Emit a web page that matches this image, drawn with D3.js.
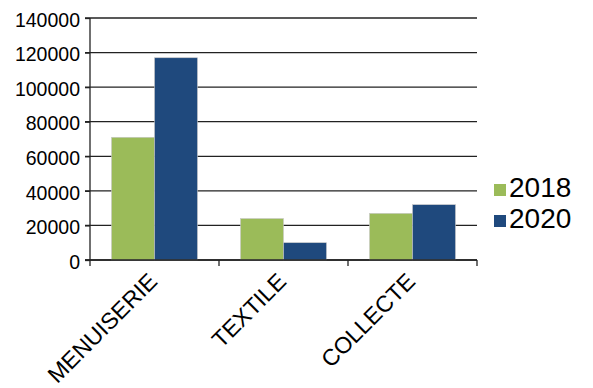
<!DOCTYPE html>
<html><head><meta charset="utf-8">
<script src="https://cdn.jsdelivr.net/npm/d3@7"></script>
<style>body{margin:0;background:#fff}svg{display:block}text{font-family:"Liberation Sans",Arial,sans-serif;fill:#000}</style>
</head><body>
<svg id="c" width="593" height="388"></svg>
<script>
const categories = ["MENUISERIE","TEXTILE","COLLECTE"];
const seriesNames = ["2018","2020"];
const values2018 = [71000, 24000, 27000];
const values2020 = [117000, 10000, 32000];
const yTicks = [0,20000,40000,60000,80000,100000,120000,140000];
const colors = ["#9bbb59","#1f497d"];

(function(){
const svg = d3.select("#c");
const mL = 90, mR = 477, mT = 18, mB = 260;
const x = d3.scaleBand().domain(categories).range([mL, mR]).padding(0);
const sub = d3.scaleBand().domain(seriesNames).range([x.bandwidth()/6, x.bandwidth()*5/6]).padding(0);
const y = d3.scaleLinear().domain([0,140000]).range([mB, mT]);
const data = categories.map((c,i)=>({cat:c, vals:[values2018[i], values2020[i]]}));

// gridlines
svg.append("g").selectAll("line").data(yTicks).join("line")
  .attr("x1", mL-5).attr("x2", mR).attr("y1", d=>y(d)).attr("y2", d=>y(d))
  .attr("stroke", "#222").attr("stroke-width", 1.3);

// bars
const g = svg.append("g").selectAll("g").data(data).join("g")
  .attr("transform", d=>`translate(${x(d.cat)},0)`);
g.selectAll("rect").data(d=>d.vals.map((v,i)=>({s:seriesNames[i], v, i}))).join("rect")
  .attr("x", d=>sub(d.s)).attr("width", sub.bandwidth())
  .attr("y", d=>y(d.v)).attr("height", d=>mB - y(d.v))
  .attr("fill", d=>colors[d.i]).attr("stroke","#c8c8c8").attr("stroke-width",0.6);

// y axis
const yAxis = d3.axisLeft(y).tickValues(yTicks).tickSize(5).tickPadding(5).tickFormat(d3.format("d"));
const ya = svg.append("g").attr("transform",`translate(${mL},0)`).call(yAxis);
ya.select(".domain").attr("stroke","#222").attr("stroke-width",1.3).attr("d",`M0,${mT}V${mB}`);
ya.selectAll(".tick line").attr("stroke","#222").attr("stroke-width",1.3);
ya.selectAll(".tick text").attr("font-size","19.5px").attr("font-family","Liberation Sans, Arial, sans-serif").attr("fill","#000").attr("dy","0.42em");

// x axis
const xa = svg.append("g").attr("transform",`translate(0,${mB})`);
xa.append("line").attr("x1",mL-5).attr("x2",mR).attr("y1",0).attr("y2",0).attr("stroke","#222").attr("stroke-width",1.3);
const bounds = categories.map(c=>x(c)).concat([mR]);
xa.selectAll("line.t").data(bounds).join("line").attr("class","t")
  .attr("x1",d=>d).attr("x2",d=>d).attr("y1",0).attr("y2",6).attr("stroke","#222").attr("stroke-width",1.3);
xa.selectAll("text").data(categories).join("text")
  .attr("transform", d=>`translate(${x(d)+x.bandwidth()/2+4},${23}) rotate(-45)`)
  .attr("text-anchor","end").attr("font-size","23px").text(d=>d);

// legend
const lg = svg.append("g").selectAll("g").data(seriesNames).join("g")
  .attr("transform",(d,i)=>`translate(494,${197+i*31})`);
lg.append("rect").attr("x",0).attr("y",-13).attr("width",12).attr("height",12).attr("fill",(d,i)=>colors[i]);
lg.append("text").attr("x",15).attr("y",0).attr("font-size","28px").text(d=>d);
})();
</script>
</body></html>
